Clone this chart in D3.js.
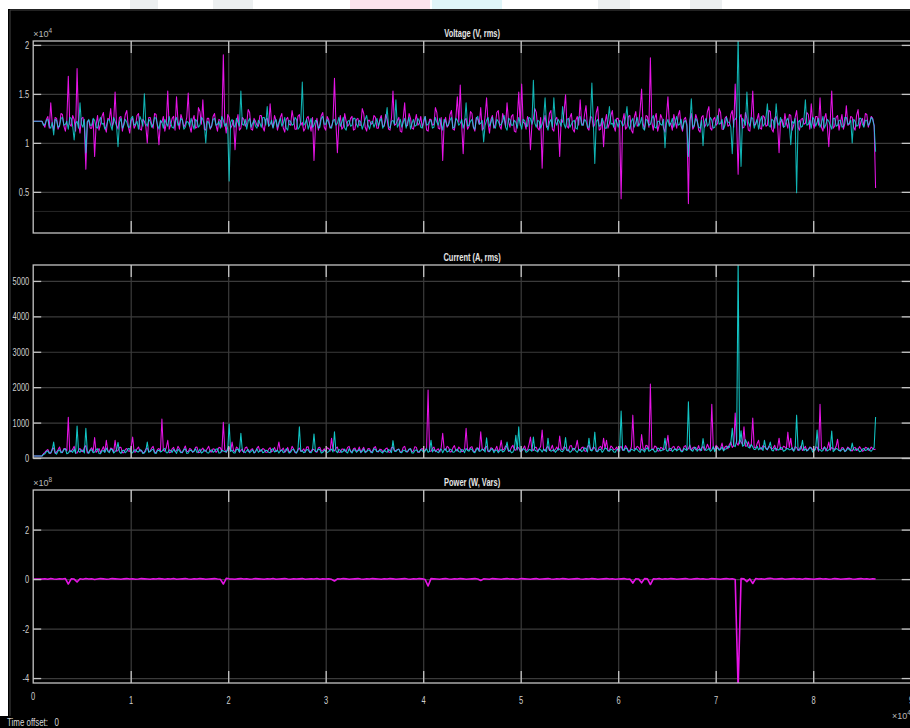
<!DOCTYPE html>
<html><head><meta charset="utf-8">
<script src="https://cdn.jsdelivr.net/npm/d3@7"></script>
<style>
html,body{margin:0;padding:0;background:#fff;}
svg{display:block;}
text{font-family:"Liberation Sans",Arial,sans-serif;}
</style></head><body>
<svg id="chart" width="910" height="728"></svg>
<script>
// ---------------- DATA ----------------
// time axis: uniform samples, units of 1e4 s
const sampleStep = 0.015;      // voltage & current
const powerSampleStep = 0.03;  // power
const xTicks = [0,1,2,3,4,5,6,7,8,9];
const xTickLabels = ["0","1","2","3","4","5","6","7","8","9"];

// Voltage (units of 1e4 V rms)
const voltageTicks = [0.5,1,1.5,2];
const voltageTickLabels = ["0.5","1","1.5","2"];
const voltageMagenta = [
1.22,1.22,1.22,1.22,1.22,1.22,1.22,1.19,1.16,1.24,1.27,1.15,1.41,1.20,1.13,1.26,1.25,1.14,1.18,1.30,1.29,1.17,1.12,1.23,1.68,1.19,1.17,1.28,1.24,1.12,1.76,1.21,1.10,1.25,1.26,1.16,0.73,1.22,1.23,1.15,
1.15,1.24,0.86,1.18,1.28,1.13,1.19,1.27,1.31,1.16,1.11,1.25,1.24,1.35,1.17,1.21,1.52,1.18,1.14,1.26,1.27,1.12,1.20,1.29,1.33,1.17,1.10,1.23,1.25,1.15,1.18,1.28,1.30,1.14,1.13,1.24,1.22,1.17,1.00,1.26,
1.26,1.19,1.15,1.30,1.29,1.16,0.98,1.22,1.21,1.27,1.12,1.20,1.53,1.14,1.18,1.25,1.27,1.13,1.47,1.22,1.14,1.29,1.24,1.16,1.19,1.26,1.51,1.17,1.11,1.23,1.28,1.15,1.16,1.36,1.32,1.19,1.44,1.14,1.13,1.25,
1.25,1.14,1.17,1.27,1.30,1.18,1.12,1.24,1.23,1.16,1.90,1.21,1.10,1.29,1.26,1.15,1.18,1.23,0.93,1.20,1.29,1.13,1.15,1.26,1.24,1.17,1.20,1.34,1.31,1.14,1.13,1.25,1.22,1.18,1.17,1.28,1.28,1.16,1.12,1.24,
1.25,1.17,1.40,1.20,1.16,1.28,1.23,1.13,1.19,1.26,1.30,1.15,1.11,1.24,1.26,1.19,1.18,1.33,1.24,1.14,1.14,1.27,1.29,1.18,1.21,1.12,1.15,1.25,1.27,1.20,1.12,1.26,0.82,1.17,1.25,1.13,1.19,1.28,1.31,1.16,
1.13,1.27,1.24,1.15,1.17,1.22,1.66,1.20,0.90,1.19,1.28,1.14,1.16,1.30,1.22,1.17,1.19,1.25,1.27,1.13,1.14,1.24,1.25,1.18,1.18,1.35,1.30,1.16,1.12,1.23,1.23,1.19,1.20,1.28,1.26,1.15,1.15,1.24,1.28,1.17,
1.17,1.29,1.24,1.14,1.13,1.26,1.53,1.18,1.19,1.23,1.26,1.12,1.11,1.25,1.41,1.17,1.18,1.30,1.25,1.15,1.14,1.22,1.29,1.18,1.20,1.27,1.16,1.21,1.27,1.13,1.12,1.24,1.24,1.18,1.19,1.36,1.31,1.15,1.14,1.26,
0.82,1.20,1.26,1.16,1.18,1.29,1.33,1.14,1.13,1.25,1.47,1.21,1.59,1.18,0.89,1.23,1.25,1.14,1.17,1.32,1.30,1.16,1.12,1.26,1.24,1.19,1.36,1.13,1.15,1.27,1.46,1.20,1.10,1.24,1.28,1.15,1.19,1.31,1.33,1.17,
1.14,1.30,1.25,1.17,1.41,1.22,1.16,1.27,1.29,1.12,1.11,1.25,1.52,1.18,1.60,1.21,1.20,1.14,1.27,1.23,0.93,1.19,1.24,1.35,1.31,1.15,1.13,1.26,0.74,1.20,1.28,1.16,1.17,1.30,1.33,1.14,1.12,1.24,1.26,1.18,
0.86,1.24,1.21,1.32,1.49,1.17,1.15,1.26,1.30,1.14,1.11,1.23,1.27,1.18,1.44,1.20,1.18,1.29,1.38,1.15,1.13,1.27,1.26,1.16,1.19,1.31,1.37,1.13,1.14,1.25,0.96,1.21,1.29,1.15,1.20,1.28,1.33,1.17,1.12,1.25,
1.25,1.18,0.43,1.22,1.30,1.14,1.16,1.27,1.28,1.13,1.10,1.26,1.32,1.17,1.19,1.34,1.55,1.20,1.14,1.28,1.27,1.16,1.87,1.21,1.13,1.25,1.30,1.12,1.18,1.29,1.25,1.15,1.11,1.27,1.47,1.19,1.20,1.13,1.29,1.22,
1.15,1.28,1.33,1.17,1.12,1.24,1.26,1.19,0.38,1.23,1.30,1.14,1.17,1.29,1.24,1.13,1.11,1.26,1.28,1.16,1.19,1.32,1.37,1.15,1.13,1.24,1.26,1.18,1.20,1.35,1.31,1.14,1.14,1.25,1.27,1.17,1.18,1.29,1.33,1.16,
1.60,1.21,0.68,1.26,1.29,1.15,1.16,1.31,1.25,1.13,1.12,1.27,1.53,1.18,1.19,1.24,1.30,1.15,1.14,1.28,1.26,1.17,1.18,1.33,1.32,1.14,1.11,1.25,1.27,1.19,0.90,1.22,1.24,1.16,1.30,1.20,1.15,1.29,1.28,1.13,
1.18,1.26,1.33,1.16,1.13,1.24,1.25,1.19,1.20,1.31,1.29,1.14,1.40,1.21,1.15,1.27,1.27,1.18,1.46,1.16,1.12,1.25,1.30,1.17,0.96,1.23,1.53,1.15,1.17,1.26,1.28,1.13,1.21,1.29,1.14,1.20,1.38,1.18,1.19,1.27,
1.26,1.16,1.13,1.28,1.34,1.15,1.22,1.25,1.17,1.30,1.29,1.16,1.21,1.27,1.25,1.18,0.54];
const voltageCyan = [
1.22,1.22,1.22,1.22,1.22,1.22,1.22,1.18,1.19,1.23,1.24,1.17,1.15,1.21,1.08,1.24,1.23,1.16,1.17,1.25,1.26,1.18,1.19,1.22,1.14,1.26,1.25,1.17,1.03,1.20,1.22,1.15,1.41,1.19,1.16,1.24,0.90,1.21,1.24,1.18,
1.18,1.25,1.23,1.16,1.15,1.22,1.26,1.19,1.20,1.14,1.17,1.23,1.24,1.18,1.13,1.26,1.22,1.17,0.96,1.21,1.25,1.15,1.18,1.24,1.21,1.16,1.16,1.25,1.27,1.18,1.19,1.22,1.14,1.27,1.23,1.17,1.50,1.20,1.17,1.24,
1.22,1.16,1.19,1.26,1.25,1.18,1.14,1.23,1.21,1.15,1.24,1.20,1.17,1.27,1.20,1.16,1.15,1.22,1.26,1.18,1.19,1.25,1.23,1.14,1.16,1.22,1.21,1.17,1.25,1.19,1.14,1.24,1.22,1.16,1.18,1.26,1.24,1.19,1.00,1.22,
1.21,1.15,1.17,1.24,1.25,1.18,1.19,1.22,1.15,1.27,1.23,1.17,1.20,1.14,0.61,1.21,1.24,1.18,1.16,1.25,1.21,1.17,1.53,1.19,1.18,1.24,1.14,1.22,1.25,1.16,1.20,1.23,1.17,1.15,1.23,1.20,1.16,1.26,1.26,1.18,
1.37,1.17,1.19,1.23,1.15,1.21,1.24,1.16,1.21,1.25,1.17,1.20,1.26,1.15,1.13,1.23,1.22,1.18,1.19,1.26,1.24,1.14,1.16,1.22,1.62,1.18,1.20,1.24,1.14,1.19,1.25,1.16,1.18,1.23,1.22,1.15,1.16,1.25,1.27,1.19,
1.19,1.24,1.21,1.16,1.15,1.23,1.24,1.18,1.20,1.26,1.17,1.21,1.26,1.15,1.13,1.22,1.23,1.17,1.18,1.25,1.25,1.19,1.16,1.23,1.21,1.14,1.19,1.24,1.28,1.18,1.14,1.21,1.22,1.16,1.20,1.25,1.17,1.22,1.25,1.15,
1.18,1.23,1.36,1.17,1.15,1.22,1.23,1.19,1.44,1.16,1.19,1.24,1.16,1.21,1.25,1.15,1.21,1.26,1.14,1.20,1.24,1.17,1.18,1.25,1.22,1.16,1.15,1.23,1.27,1.18,1.19,1.22,1.23,1.15,1.16,1.26,1.21,1.18,1.25,1.20,
1.13,1.24,1.22,1.17,1.19,1.23,1.26,1.15,1.16,1.25,1.23,1.18,1.20,1.24,1.15,1.21,1.41,1.17,1.18,1.22,1.24,1.16,1.14,1.25,1.27,1.19,1.20,1.23,1.01,1.18,1.23,1.26,1.17,1.21,1.26,1.16,1.15,1.24,1.22,1.18,
1.19,1.22,1.28,1.16,1.13,1.25,1.24,1.18,1.18,1.23,1.21,1.15,1.26,1.20,1.14,1.24,1.23,1.17,1.17,1.26,1.25,1.19,1.64,1.20,1.16,1.23,1.22,1.15,1.19,1.25,1.46,1.18,1.13,1.21,1.24,1.16,1.46,1.22,1.18,1.24,
1.21,1.17,1.37,1.19,1.15,1.24,1.25,1.16,1.19,1.22,1.23,1.15,1.14,1.26,1.27,1.18,1.18,1.24,1.22,1.16,1.16,1.25,1.61,1.20,0.79,1.22,1.24,1.17,1.18,1.25,1.21,1.15,1.15,1.23,1.37,1.19,1.20,1.16,1.24,1.21,
1.16,1.23,1.22,1.17,1.19,1.25,1.37,1.18,1.14,1.22,1.25,1.16,1.21,1.26,1.17,1.20,1.26,1.15,1.13,1.24,1.23,1.18,1.19,1.25,1.28,1.16,1.15,1.22,1.22,1.19,1.18,1.24,0.95,1.20,1.24,1.17,1.20,1.25,1.16,1.22,
1.27,1.18,1.19,1.24,1.14,1.21,1.23,1.17,0.86,1.20,1.45,1.16,1.18,1.25,1.22,1.16,1.15,1.23,0.97,1.21,1.25,1.17,1.19,1.26,1.23,1.15,1.16,1.22,1.28,1.19,1.20,1.24,1.14,1.18,1.26,1.21,1.21,1.16,0.89,1.23,
1.24,1.26,2.10,1.19,0.76,1.25,1.22,1.18,1.52,1.21,1.17,1.26,1.25,1.15,1.20,1.24,1.14,1.22,1.27,1.17,1.19,1.25,1.40,1.18,1.16,1.24,1.23,1.15,1.40,1.21,1.18,1.26,1.21,1.16,1.17,1.23,1.25,1.19,0.98,1.22,
1.20,1.25,0.49,1.21,1.23,1.16,1.17,1.24,1.44,1.18,1.19,1.23,1.15,1.26,1.24,1.17,1.21,1.25,1.16,1.20,1.27,1.15,1.19,1.24,1.22,1.18,1.14,1.25,1.25,1.17,1.18,1.23,1.23,1.16,1.17,1.26,1.26,1.19,1.20,1.23,
1.00,1.24,1.22,1.17,1.18,1.25,1.25,1.19,1.16,1.23,1.23,1.18,1.20,1.26,1.24,1.17,0.91];

// Current (A rms)
const currentTicks = [0,1000,2000,3000,4000,5000];
const currentTickLabels = ["0","1000","2000","3000","4000","5000"];
const currentMagenta = [
55,55,55,55,55,55,55,120,160,210,240,150,130,260,280,140,170,230,310,180,150,270,260,200,1150,170,190,250,330,150,140,220,270,190,180,300,350,140,160,240,
290,180,575,160,200,270,150,230,320,170,500,210,180,280,260,160,500,190,210,300,300,150,150,240,270,200,190,320,590,170,170,260,310,190,220,140,160,250,280,180,
200,280,330,170,150,240,270,190,1100,220,190,290,500,150,160,260,300,180,210,330,260,170,150,250,340,190,180,270,240,160,200,300,310,150,160,230,280,200,190,260,
330,180,170,260,250,160,210,300,290,170,1010,230,160,280,300,190,450,210,180,310,270,160,220,250,150,290,310,180,190,240,260,150,170,280,330,190,200,270,240,160,
160,250,290,170,210,300,180,240,450,190,230,280,160,210,300,170,190,330,260,150,150,240,280,190,210,260,170,310,320,160,190,250,240,180,160,290,300,200,200,260,
180,290,270,190,560,230,200,280,310,160,160,250,250,200,190,300,330,170,170,260,280,190,210,310,150,240,300,180,180,270,260,150,200,290,320,190,170,250,240,180,
190,260,280,170,160,290,310,200,210,240,250,160,180,300,330,190,170,250,260,180,200,320,300,160,160,240,270,210,220,290,1920,200,190,270,310,180,230,260,170,300,
700,250,220,330,300,170,180,290,350,210,200,310,260,180,190,270,840,220,230,300,320,190,180,280,280,200,740,260,210,300,330,180,190,290,270,200,240,330,180,260,
500,220,250,340,310,190,200,300,360,230,220,320,280,200,190,270,340,210,230,380,590,240,210,300,300,190,250,330,790,230,200,290,330,210,260,360,190,240,310,220,
620,260,230,320,290,210,200,340,350,220,240,300,500,230,210,290,310,200,190,330,360,240,230,310,280,190,200,300,330,240,560,270,500,210,220,340,300,230,250,310,
190,290,330,220,240,350,280,200,210,310,1210,250,260,330,300,210,660,280,220,360,340,240,2090,270,230,340,310,200,200,300,280,230,250,380,640,220,210,300,330,240,
240,330,300,210,190,320,350,240,260,370,220,290,310,230,240,350,200,280,330,220,260,390,290,250,1520,300,230,360,310,240,270,420,220,310,340,260,380,450,300,350,
1270,420,360,520,450,380,880,330,340,460,300,390,1130,300,280,410,500,260,250,350,320,280,230,330,300,250,280,360,210,300,560,240,250,330,310,260,730,300,560,230,
230,320,300,210,260,340,210,270,330,200,240,310,290,230,220,300,310,190,1520,260,250,320,200,280,450,220,300,260,240,330,530,210,210,300,280,190,230,310,270,220,
200,280,300,210,240,320,260,190,210,300,290,220,230,310,270,240,250];
const currentCyan = [
55,55,55,55,55,55,55,100,120,180,200,130,150,220,450,140,110,200,230,150,170,240,260,120,140,210,190,160,250,130,900,190,160,230,210,140,840,200,130,220,
230,150,170,240,260,130,120,200,210,160,280,190,150,250,240,140,180,230,440,170,130,210,220,150,190,270,260,140,150,220,230,180,170,240,210,130,140,200,450,160,
180,230,250,140,130,210,220,170,190,240,270,150,150,230,210,160,240,200,130,250,200,150,170,230,260,130,140,210,220,170,190,260,150,180,250,140,170,230,210,150,
140,210,230,160,190,250,260,140,150,220,200,180,170,230,960,190,220,150,140,240,250,170,700,200,180,150,210,240,150,190,230,140,190,260,160,200,240,150,170,220,
210,160,150,240,260,170,190,220,140,200,230,150,180,260,220,140,160,230,250,180,140,210,880,190,200,150,170,240,230,160,150,220,680,180,190,250,240,140,160,210,
210,150,180,230,250,170,740,200,150,240,220,160,190,250,170,140,260,200,140,230,230,160,200,240,160,190,250,150,180,230,210,170,150,260,240,180,190,220,170,140,
230,180,160,240,210,150,490,200,180,230,250,160,150,220,220,170,190,250,260,140,140,210,230,180,170,240,210,150,200,260,160,190,500,170,240,200,180,150,220,250,
150,230,260,170,190,250,230,160,170,220,250,180,160,240,220,150,270,210,190,260,240,170,150,230,280,190,200,250,230,170,570,210,180,240,260,150,210,230,150,200,
240,170,190,260,450,200,220,150,170,250,640,230,880,180,210,260,250,160,180,240,230,190,590,220,200,170,260,230,170,250,220,180,560,240,190,210,240,160,210,260,
250,190,180,240,580,210,230,160,190,270,270,200,160,230,240,180,210,290,260,170,560,220,200,260,730,190,180,240,250,160,210,280,270,200,190,250,230,170,160,240,
240,190,1330,230,210,280,260,170,180,250,230,200,270,240,190,160,250,220,170,260,290,190,210,250,240,170,180,280,260,200,220,240,560,210,190,270,270,180,230,260,
200,240,260,180,180,270,240,210,1590,260,220,190,280,300,190,240,250,210,550,280,210,230,270,190,230,320,180,260,290,220,240,310,200,250,260,330,300,420,840,350,
320,480,5600,400,770,330,360,520,420,300,280,380,310,240,250,330,230,280,290,210,500,260,240,310,450,220,200,280,260,230,230,300,280,190,210,260,270,230,240,290,
190,260,1210,230,220,280,500,210,260,200,230,290,280,170,200,250,790,220,240,190,210,300,270,200,230,260,760,180,220,270,250,210,190,240,260,180,210,280,240,200,
420,230,220,260,250,180,190,250,270,210,230,280,210,190,240,300,1160];

// Power (units of 1e8 W)
const powerTicks = [-4,-2,0,2];
const powerTickLabels = ["-4","-2","0","2"];
const powerMagenta = [
0,0,0,0,0.01,-0.01,0.02,0,-0.01,0.01,0,0.02,-0.2,0.01,0,-0.12,0.01,-0.01,0.02,0,
0.01,-0.02,0,0.02,0.01,-0.01,0,0.02,0.01,0,-0.01,0.01,0.02,0,0.01,-0.01,0,0.02,0.01,0,
-0.01,0.01,0,0.02,0.01,-0.01,0.01,0,0.02,-0.01,0,0.01,0.02,0,-0.01,0.01,0,0.02,0.01,-0.01,
0,0.01,0.02,0,-0.01,-0.2,0.03,0.01,0,-0.01,0.01,0.02,0,0.01,-0.01,0,0.02,0.01,0,-0.01,
0.01,0,0.02,-0.01,0,0.01,0.02,0,-0.01,0.01,0,0.01,0.02,-0.01,0,0.01,0,0.02,-0.01,0.01,
0,0.01,-0.01,-0.08,0.01,0,0.02,0.01,-0.01,0,0.01,0.02,0,-0.01,0.01,0,0.02,0.01,0,-0.01,
0.01,0,0.02,0.01,-0.01,0,0.01,0.02,0,-0.01,0.01,0,0.02,0.01,-0.02,-0.28,0.02,0.01,0,-0.01,
0.01,0.02,0,-0.01,0.01,0,0.02,0.01,-0.01,0,0.01,0.02,0,-0.06,0.01,0,-0.01,0.02,0.01,0,
-0.01,0.01,0.02,0,0.01,-0.01,0,0.02,0.01,0,-0.01,0.01,0.02,-0.01,0,0.01,0.02,0,-0.01,0.01,
0,0.02,0.01,-0.01,0,0.01,0.02,0,-0.01,0.01,0,0.02,0.01,-0.01,0,0.01,0.02,0,0.01,-0.01,
0,0.01,0.02,-0.01,0,-0.16,0.01,0,-0.15,0.02,0.01,-0.22,0.01,0,0.02,-0.01,0.01,0,0.02,0.01,
-0.01,0,0.01,0.02,0,-0.01,0.01,0.02,0,0.01,-0.01,0,0.02,0.01,0,-0.01,0.01,0.02,0,0.01,
-0.02,-4.4,0.02,0.01,-0.1,0.01,-0.18,0.02,0,0.01,-0.01,0.02,0.03,0.01,0,0.01,0.02,-0.01,0,0.01,
0.02,0,0.01,-0.01,0.02,0.01,0,-0.01,0.01,0.02,0,0.01,-0.01,0,0.02,0.01,-0.01,0,0.01,0.02,
0,-0.01,0.01,0.02,0,0.01,-0.01,0.01,0];

// ---------------- DRAWING ----------------
const W = 910, H = 728;
const MAGENTA = "#e614e6", CYAN = "#14e0e0";
const BOX = "#c4c4c4", GRID = "#3b3b3b", TXT = "#cfcfcf";

// condense text horizontally (scope font is a narrow face)
function condense(sel, f) {
  sel.each(function () {
    const w = this.getComputedTextLength();
    d3.select(this).attr("textLength", w * f).attr("lengthAdjust", "spacingAndGlyphs");
  });
}

const svg = d3.select("#chart");
svg.append("rect").attr("width", W).attr("height", H).attr("fill", "#fff");
[["#fbe3ec",350,80],["#dff5f8",432,70],["#eceff0",130,28],["#eceff0",213,40],["#eceff0",598,32],["#eceff0",690,32]]
  .forEach(([c,x0,w]) => svg.append("rect").attr("x",x0).attr("y",0).attr("width",w).attr("height",9).attr("fill",c));
svg.append("rect").attr("x", 8).attr("y", 9).attr("width", W - 8).attr("height", H - 9).attr("fill", "#000");
svg.append("rect").attr("x", 0).attr("y", 716).attr("width", 8).attr("height", 12).attr("fill", "#000");
svg.append("path").attr("d", "M10,716V10H910").attr("fill", "none").attr("stroke", "#454545").attr("stroke-width", 1);

const x = d3.scaleLinear().domain([0, 9]).range([33.2, 910.7]);
const L = x.range()[0], R = x.range()[1];

const panels = [
  {id:"v", title:"Voltage (V, rms)", top:41, bottom:233, domain:[0.08, 2.04], ticks:voltageTicks, labels:voltageTickLabels,
   series:[[voltageMagenta, MAGENTA, 1, sampleStep, 1.05], [voltageCyan, CYAN, 0.8, sampleStep, 1.05]], exp:"4", extra:[0.3]},
  {id:"c", title:"Current (A, rms)", top:265, bottom:458, domain:[0, 5450], ticks:currentTicks, labels:currentTickLabels,
   series:[[currentMagenta, MAGENTA, 1, sampleStep, 1.05], [currentCyan, CYAN, 0.88, sampleStep, 1.05]], exp:null, extra:[]},
  {id:"p", title:"Power (W, Vars)", top:490, bottom:683, domain:[-4.2, 3.6], ticks:powerTicks, labels:powerTickLabels,
   series:[[powerMagenta, MAGENTA, 1, powerSampleStep, 1.6]], exp:"8", extra:[]}
];

panels.forEach((p, pi) => {
  const y = d3.scaleLinear().domain(p.domain).range([p.bottom, p.top]);
  const g = svg.append("g");
  const clipId = "clip-" + p.id;
  svg.append("clipPath").attr("id", clipId).append("rect")
    .attr("x", L).attr("y", p.top).attr("width", R - L).attr("height", p.bottom - p.top);

  p.extra.forEach(v => g.append("line").attr("x1", L).attr("x2", R).attr("y1", y(v)).attr("y2", y(v))
    .attr("stroke", "#262626").attr("stroke-width", 1));

  // grid lines
  const gy = g.append("g").attr("transform", `translate(${L},0)`)
    .call(d3.axisLeft(y).tickValues(p.ticks).tickSize(-(R - L)).tickFormat(""));
  gy.select(".domain").remove();
  gy.selectAll("line").attr("stroke", GRID).attr("stroke-width", 1.2);
  const gx = g.append("g").attr("transform", `translate(0,${p.bottom})`)
    .call(d3.axisBottom(x).tickValues(xTicks.slice(1)).tickSize(-(p.bottom - p.top)).tickFormat(""));
  gx.select(".domain").remove();
  gx.selectAll("line").attr("stroke", GRID).attr("stroke-width", 1.2);

  // series
  const data = g.append("g").attr("clip-path", `url(#${clipId})`);
  p.series.forEach(([vals, col, op, step, sw]) => {
    const line = d3.line().x((d, i) => x(i * step)).y(d => y(d));
    data.append("path").attr("d", line(vals)).attr("fill", "none")
      .attr("stroke", col).attr("stroke-width", sw).attr("stroke-opacity", op)
      .attr("stroke-linejoin", "round");
  });

  // box
  g.append("rect").attr("x", L).attr("y", p.top).attr("width", R - L).attr("height", p.bottom - p.top)
    .attr("fill", "none").attr("stroke", BOX).attr("stroke-width", 1.3);

  // tick marks + labels
  const ay = g.append("g").attr("transform", `translate(${L},0)`)
    .call(d3.axisLeft(y).tickValues(p.ticks).tickSize(-8).tickPadding(4)
      .tickFormat((d, i) => p.labels[i]));
  ay.select(".domain").remove();
  ay.selectAll("line").attr("stroke", BOX).attr("stroke-width", 1.3);
  ay.selectAll("text").attr("fill", TXT).attr("font-size", 11).attr("font-family", '"Liberation Sans",Arial,sans-serif');
  condense(ay.selectAll("text"), 0.68);

  const ar = g.append("g").attr("transform", `translate(${R},0)`)
    .call(d3.axisRight(y).tickValues(p.ticks).tickSize(-9).tickFormat(""));
  ar.select(".domain").remove();
  ar.selectAll("line").attr("stroke", BOX).attr("stroke-width", 1.3);

  const at = g.append("g").attr("transform", `translate(0,${p.top})`)
    .call(d3.axisTop(x).tickValues(xTicks.slice(1)).tickSize(-12).tickFormat(""));
  at.select(".domain").remove();
  at.selectAll("line").attr("stroke", BOX).attr("stroke-width", 1.3);

  const ab = g.append("g").attr("transform", `translate(0,${p.bottom})`)
    .call(d3.axisBottom(x).tickValues(xTicks.slice(1)).tickSize(-12).tickPadding(13)
      .tickFormat(pi === 2 ? (d => xTickLabels[xTicks.indexOf(d)]) : ""));
  ab.select(".domain").remove();
  ab.selectAll("line").attr("stroke", BOX).attr("stroke-width", 1.3);
  ab.selectAll("text").attr("fill", TXT).attr("font-size", 11).attr("font-family", '"Liberation Sans",Arial,sans-serif');
  if (pi === 2) condense(ab.selectAll("text"), 0.68);

  // title
  const tt = g.append("text").attr("x", (L + 911) / 2).attr("y", p.top - 4).attr("text-anchor", "middle")
    .attr("fill", "#e6e6e6").attr("font-size", 11).attr("font-weight", "bold").text(p.title);
  condense(tt, 0.68);

  // exponent label
  if (p.exp) {
    const t = g.append("text").attr("x", L).attr("y", p.top - 4).attr("fill", "#b8b8b8").attr("font-size", 9);
    t.append("tspan").text("\u00d710");
    t.append("tspan").attr("dy", -4).attr("font-size", 6.5).text(p.exp);
  }
});

// x = 0 label on bottom axis
const x0 = svg.append("text").attr("x", x(xTicks[0])).attr("y", 683 + 17).attr("text-anchor", "middle")
  .attr("fill", TXT).attr("font-size", 11).text(xTickLabels[0]);
condense(x0, 0.68);

// bottom-right exponent
const ex = svg.append("text").attr("x", 892).attr("y", 719).attr("fill", "#b8b8b8").attr("font-size", 9);
ex.append("tspan").text("\u00d710");
ex.append("tspan").attr("dy", -4).attr("font-size", 6.5).text("4");

// time offset
const to = svg.append("text").attr("x", 7).attr("y", 726).attr("fill", "#d8d8d8").attr("font-size", 11)
  .attr("xml:space", "preserve").text("Time offset:\u00a0\u00a0\u00a00");
condense(to, 0.72);
</script>
</body></html>
